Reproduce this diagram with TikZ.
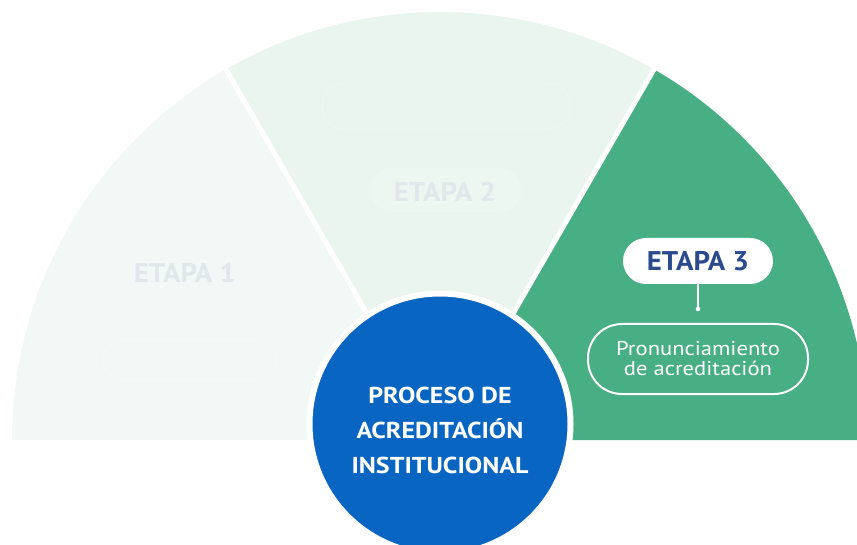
\documentclass[tikz,border=0pt]{standalone}
\usepackage{fontspec}
\setmainfont{PT Sans}
\newfontfamily\widefont[FakeStretch=1.13]{PT Sans}
\newfontfamily\midfont[FakeStretch=1.07]{PT Sans}
\definecolor{secA}{HTML}{F2F8F5}
\definecolor{secB}{HTML}{EAF5EF}
\definecolor{secC}{HTML}{47AF83}
\definecolor{core}{HTML}{0866C2}
\definecolor{navy}{HTML}{2C4A8E}
\definecolor{ghosttext}{HTML}{E0E8EC}
\definecolor{ghostpill}{HTML}{EDF7F2}
\definecolor{ghostlineB}{HTML}{EEF7F3}
\definecolor{ghostlineA}{HTML}{F5FAF7}
\tikzset{
  stagelabel/.style={font=\midfont\bfseries\fontsize{27}{27}\selectfont},
  coretext/.style={font=\widefont\bfseries\fontsize{23}{23}\selectfont, text=white, anchor=base},
  divider/.style={white, line width=5},
}
\begin{document}
\begin{tikzpicture}[x=1pt,y=-1pt]
\useasboundingbox (0,0) rectangle (857,545);
\clip (0,0) rectangle (857,545);
\coordinate (C) at (440,440);
% sectors
\fill[secA] (C) -- ++(180:428) arc[start angle=180,end angle=240,radius=428] -- cycle;
\fill[secB] (C) -- ++(240:428) arc[start angle=240,end angle=300,radius=428] -- cycle;
\fill[secC] (C) -- ++(300:428) arc[start angle=300,end angle=360,radius=428] -- cycle;
\draw[divider] (C) -- ++(240:440);
\draw[divider] (C) -- ++(300:440);
% ghost boxes
\node[draw=ghostlineB, line width=1.2, rounded corners=22, minimum width=248, minimum height=46] (g2box) at (446,106) {};
\node[draw=ghostlineA, line width=1.2, rounded corners=20, minimum width=174, minimum height=40] (g1box) at (190,360) {};
% stage labels
\node[stagelabel, text=ghosttext, anchor=base] (e1) at (185,283) {ETAPA 1};
\node[fill=ghostpill, rounded corners=22, minimum width=152, minimum height=44] (e2pill) at (446,190) {};
\node[stagelabel, text=ghosttext, anchor=base] (e2) at (445,202) {ETAPA 2};
\node[stagelabel, text=navy, fill=white, rounded corners=23, minimum width=150, minimum height=46] (e3) at (698,261) {ETAPA 3};
\coordinate (dot) at (698,309);
\draw[white, line width=1.2] (e3.south) -- (dot);
\fill[white] (dot) circle (2.3);
\node[draw=white, line width=2, rounded corners=34, minimum width=220, minimum height=70, align=center, text=white, font=\widefont\fontsize{20}{20}\selectfont] (pr) at (698,359) {Pronunciamiento\\de acreditación};
% core
\node[circle, fill=core, draw=white, line width=6, minimum size=261, inner sep=0] (core) at (440,424) {};
\node[coretext] (l1) at (440,403) {PROCESO DE};
\node[coretext] (l2) at (440,438) {ACREDITACIÓN};
\node[coretext] (l3) at (440,473) {INSTITUCIONAL};
\end{tikzpicture}
\end{document}
